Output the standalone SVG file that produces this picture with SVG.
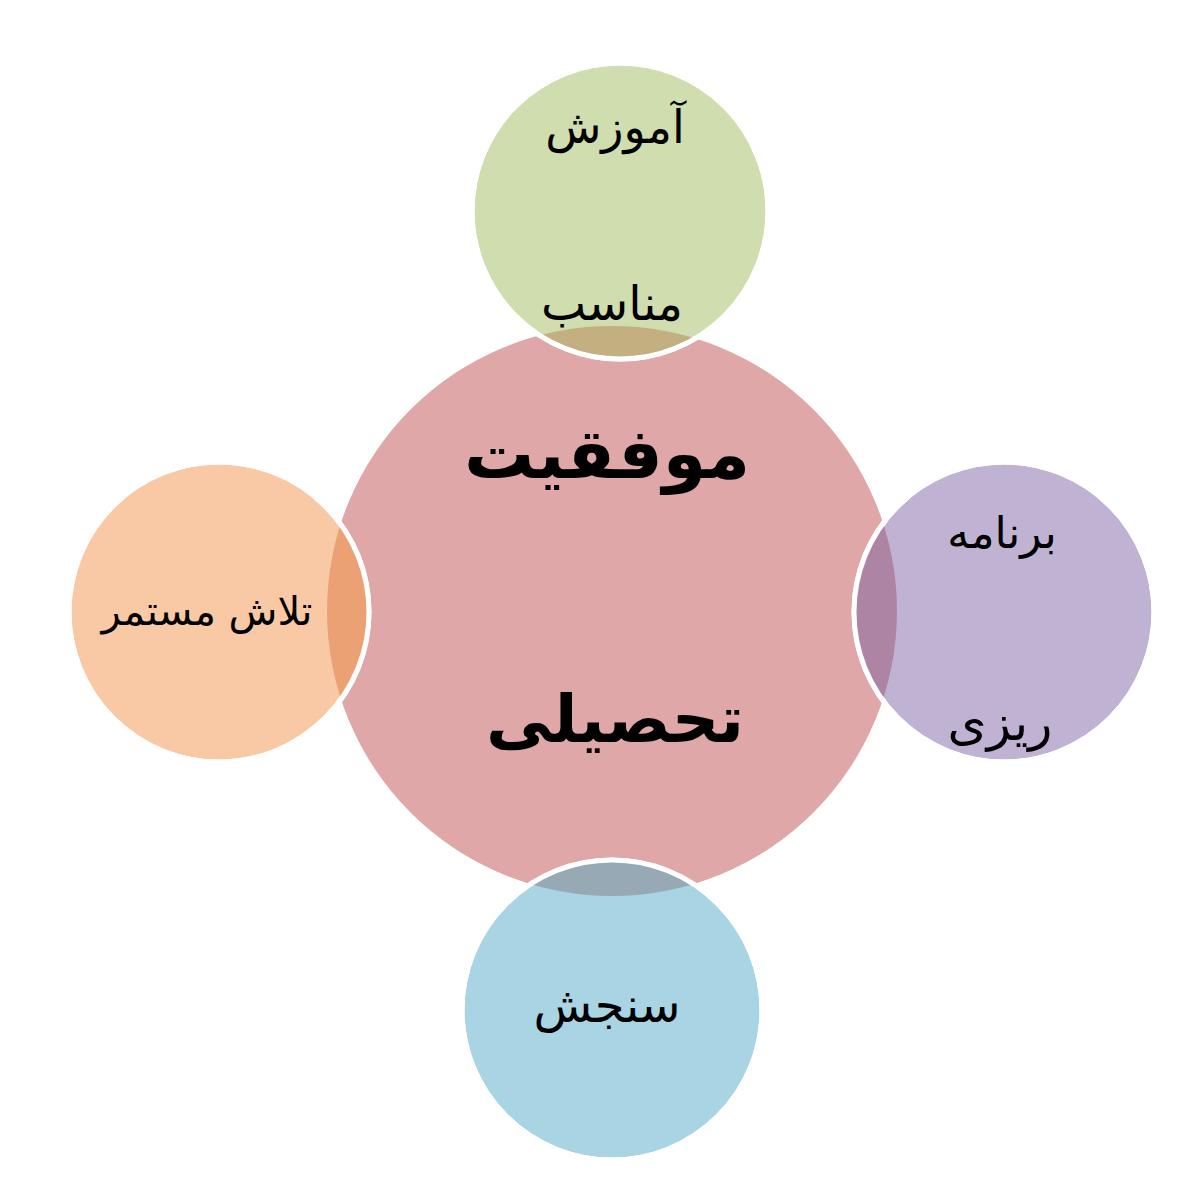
<svg xmlns="http://www.w3.org/2000/svg" width="1194" height="1200" viewBox="0 0 1194 1200">
<style>
.t{font-family:'DejaVu Sans','Noto Sans',sans-serif;fill:#000;text-anchor:middle}
.sat{stroke:#fff;stroke-width:5}
.ring{fill:none;stroke:#fff;stroke-width:5}
</style>
<defs>
<clipPath id="cTop"><circle cx="620" cy="211" r="148"/></clipPath>
<clipPath id="cRight"><circle cx="1004" cy="612" r="150"/></clipPath>
<clipPath id="cBottom"><circle cx="612" cy="1010" r="150"/></clipPath>
<clipPath id="cLeft"><circle cx="219" cy="612" r="150"/></clipPath>
</defs>
<rect width="1194" height="1200" fill="#fff"/>
<g id="connectors"/>
<g id="center-node">
<circle cx="612" cy="611" r="285" fill="#DFA7A7"/>
</g>
<g id="node-top">
<circle class="sat" cx="620" cy="211" r="148" fill="#CFDDAF"/>
<circle cx="612" cy="611" r="285" fill="#C3AF80" clip-path="url(#cTop)"/>
<circle class="ring" cx="620" cy="211" r="148"/>
<text class="t" x="615" y="143" font-size="46">آموزش</text>
<text class="t" x="612" y="320" font-size="48">مناسب</text>
</g>
<g id="node-right">
<circle class="sat" cx="1004" cy="612" r="150" fill="#C0B2D3"/>
<circle cx="612" cy="611" r="285" fill="#AE84A4" clip-path="url(#cRight)"/>
<circle class="ring" cx="1004" cy="612" r="150"/>
<text class="t" x="1002" y="548" font-size="44">برنامه</text>
<text class="t" x="1000" y="740" font-size="50">ریزی</text>
</g>
<g id="node-bottom">
<circle class="sat" cx="612" cy="1010" r="150" fill="#A8D4E3"/>
<circle cx="612" cy="611" r="285" fill="#98A9B6" clip-path="url(#cBottom)"/>
<circle class="ring" cx="612" cy="1010" r="150"/>
<text class="t" x="607" y="1022" font-size="48">سنجش</text>
</g>
<g id="node-left">
<circle class="sat" cx="219" cy="612" r="150" fill="#F9C9A5"/>
<circle cx="612" cy="611" r="285" fill="#EBA174" clip-path="url(#cLeft)"/>
<circle class="ring" cx="219" cy="612" r="150"/>
<text class="t" x="207" y="625" font-size="40">تلاش مستمر</text>
</g>
<g id="center-label">
<text class="t" x="607" y="478" font-size="70" font-weight="bold">موفقیت</text>
<text class="t" x="615" y="742" font-size="66" font-weight="bold">تحصیلی</text>
</g>
</svg>
